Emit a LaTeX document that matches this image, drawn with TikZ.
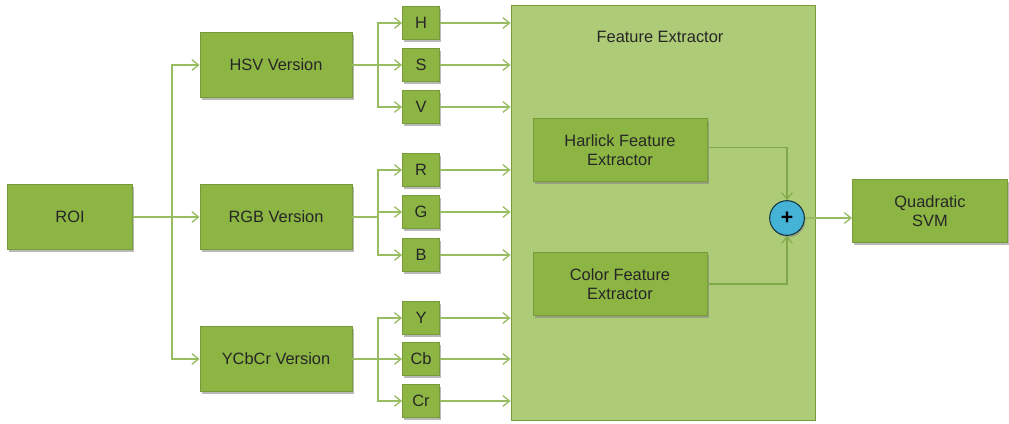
\documentclass[tikz,border=0pt]{standalone}
\usepackage{fontspec}
\setmainfont{Liberation Sans}
\usetikzlibrary{arrows.meta,shadows}
\definecolor{boxfill}{HTML}{8DB544}
\definecolor{boxedge}{HTML}{789B3A}
\definecolor{panelfill}{HTML}{AECB78}
\definecolor{wire}{HTML}{97BC62}
\definecolor{innerwire}{HTML}{7FA848}
\definecolor{sumfill}{HTML}{45B3D6}
\definecolor{txt}{HTML}{262626}
\tikzset{
  blk/.style={draw=boxedge, line width=0.6pt, fill=boxfill, text=txt, align=center,
    font=\fontsize{12.3}{14.5}\selectfont,
    drop shadow={shadow xshift=1.2pt, shadow yshift=-2pt, opacity=0.55}},
  chan/.style={blk, minimum width=27.75pt, minimum height=25pt, inner sep=0pt},
  wide/.style={blk, minimum width=114pt, minimum height=48.5pt},
  link/.style={draw=wire, line width=1pt, -{Straight Barb[length=5pt,width=8pt]}},
  thinlink/.style={link, draw=innerwire, line width=0.8pt},
  plain/.style={draw=wire, line width=1pt},
}
\begin{document}
\begin{tikzpicture}[x=0.75pt,y=-0.75pt]
\useasboundingbox (0,0) rectangle (1009,424);

% feature extractor panel
\node[draw=boxedge, line width=0.6pt, fill=panelfill, minimum width=228pt, minimum height=311.25pt,
      inner sep=0pt] (panel) at (663,212.5) {};
\node[text=txt, font=\fontsize{12.3}{14.5}\selectfont] (ptitle) at (660,37) {Feature Extractor};

% left column
\node[blk, minimum width=93.75pt, minimum height=48.5pt] (roi) at (70,217) {ROI};
\node[wide] (hsv) at (276,65) {HSV Version};
\node[wide] (rgb) at (276,217) {RGB Version};
\node[wide] (ycc) at (276,359) {YCbCr Version};

% channel boxes
\node[chan] (h)  at (421,23)  {H};
\node[chan] (s)  at (421,65)  {S};
\node[chan] (v)  at (421,107) {V};
\node[chan] (r)  at (421,170) {R};
\node[chan] (g)  at (421,212) {G};
\node[chan] (b)  at (421,255) {B};
\node[chan] (y)  at (421,318) {Y};
\node[chan] (cb) at (421,359) {Cb};
\node[chan] (cr) at (421,401) {Cr};

% inner extractors
\node[blk, minimum width=130.5pt, minimum height=47pt] (har) at (620,150) {Harlick Feature\\Extractor};
\node[blk, minimum width=130.5pt, minimum height=47pt] (col) at (620,284) {Color Feature\\Extractor};
\node[circle, draw=black!70!sumfill, line width=0.8pt, fill=sumfill, minimum size=26pt, inner sep=0pt,
      drop shadow={shadow xshift=1pt, shadow yshift=-1.5pt, opacity=0.5},
      font=\bfseries\fontsize{16}{16}\selectfont] (sum) at (787,218) {+};
\node[blk, minimum width=116.25pt, minimum height=47pt] (svm) at (930,211) {Quadratic\\SVM};

% ROI fan-out
\coordinate (j0) at (172,217);
\draw[plain] (roi.east) -- (j0);
\draw[link] (j0) -- (rgb.west);
\draw[link] (j0) |- (hsv.west);
\draw[link] (j0) |- (ycc.west);

% colour-space fan-out
\foreach \src/\a/\m/\z in {hsv/h/s/v, rgb/r/g/b, ycc/y/cb/cr}{
  \coordinate (k-\src) at ([xshift=-18pt]\src.east -| \m.west);
  \draw[plain] (\src.east) -- (k-\src);
  \draw[link] (k-\src) |- (\m.west);
  \draw[link] (k-\src) |- (\a.west);
  \draw[link] (k-\src) |- (\z.west);
}

% channels into the panel
\foreach \c in {h,s,v,r,g,b,y,cb,cr}{
  \draw[link] (\c.east) -- (\c.east -| panel.west);
}

% feature fusion
\draw[thinlink] ([yshift=2pt]har.east) -| (sum.north);
\draw[thinlink] (col.east) -| (sum.south);
\draw[link] (sum.east) -- (sum.east -| svm.west);
\end{tikzpicture}
\end{document}
